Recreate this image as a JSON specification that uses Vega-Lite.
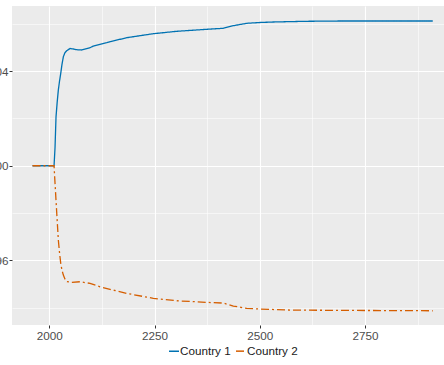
{
  "$schema": "https://vega.github.io/schema/vega-lite/v6.json",
  "width": 440,
  "height": 319,
  "autosize": {"type": "none"},
  "padding": {"left": 12, "top": 6, "right": 0, "bottom": 40},
  "background": "white",
  "config": {
    "view": {"fill": "#EBEBEB", "stroke": null},
    "font": "Liberation Sans"
  },
  "data": {
    "values": [
      {"country": "Country 1", "year": 1960, "value": 1.0},
      {"country": "Country 1", "year": 2011.2, "value": 1.0},
      {"country": "Country 1", "year": 2013.5, "value": 1.00075},
      {"country": "Country 1", "year": 2015.9, "value": 1.002074},
      {"country": "Country 1", "year": 2018.6, "value": 1.00268},
      {"country": "Country 1", "year": 2021.4, "value": 1.003204},
      {"country": "Country 1", "year": 2024.2, "value": 1.00358},
      {"country": "Country 1", "year": 2027.1, "value": 1.003911},
      {"country": "Country 1", "year": 2030.0, "value": 1.00428},
      {"country": "Country 1", "year": 2033.3, "value": 1.004614},
      {"country": "Country 1", "year": 2037.0, "value": 1.00478},
      {"country": "Country 1", "year": 2041.3, "value": 1.004868},
      {"country": "Country 1", "year": 2049.2, "value": 1.004961},
      {"country": "Country 1", "year": 2057.0, "value": 1.00494},
      {"country": "Country 1", "year": 2065.1, "value": 1.00491},
      {"country": "Country 1", "year": 2077.0, "value": 1.004898},
      {"country": "Country 1", "year": 2096.7, "value": 1.004995},
      {"country": "Country 1", "year": 2104.5, "value": 1.005067},
      {"country": "Country 1", "year": 2136.4, "value": 1.005207},
      {"country": "Country 1", "year": 2144.2, "value": 1.005249},
      {"country": "Country 1", "year": 2183.9, "value": 1.005418},
      {"country": "Country 1", "year": 2247.1, "value": 1.005588},
      {"country": "Country 1", "year": 2302.7, "value": 1.005689},
      {"country": "Country 1", "year": 2374.0, "value": 1.005774},
      {"country": "Country 1", "year": 2413.4, "value": 1.005816},
      {"country": "Country 1", "year": 2437.2, "value": 1.005926},
      {"country": "Country 1", "year": 2469.0, "value": 1.006028},
      {"country": "Country 1", "year": 2500.6, "value": 1.006062},
      {"country": "Country 1", "year": 2531.5, "value": 1.006083},
      {"country": "Country 1", "year": 2611.6, "value": 1.006113},
      {"country": "Country 1", "year": 2690.7, "value": 1.006125},
      {"country": "Country 1", "year": 2911, "value": 1.006125},
      {"country": "Country 2", "year": 1960, "value": 1.0},
      {"country": "Country 2", "year": 2011.2, "value": 1.0},
      {"country": "Country 2", "year": 2013.5, "value": 0.999268},
      {"country": "Country 2", "year": 2017.6, "value": 0.997998},
      {"country": "Country 2", "year": 2021.4, "value": 0.996855},
      {"country": "Country 2", "year": 2024.2, "value": 0.99632},
      {"country": "Country 2", "year": 2027.1, "value": 0.995869},
      {"country": "Country 2", "year": 2030.0, "value": 0.99558},
      {"country": "Country 2", "year": 2033.3, "value": 0.995373},
      {"country": "Country 2", "year": 2037.0, "value": 0.99521},
      {"country": "Country 2", "year": 2041.3, "value": 0.995098},
      {"country": "Country 2", "year": 2053.2, "value": 0.995064},
      {"country": "Country 2", "year": 2072.9, "value": 0.99509},
      {"country": "Country 2", "year": 2096.7, "value": 0.995022},
      {"country": "Country 2", "year": 2120.5, "value": 0.994878},
      {"country": "Country 2", "year": 2144.2, "value": 0.994768},
      {"country": "Country 2", "year": 2183.9, "value": 0.994599},
      {"country": "Country 2", "year": 2247.1, "value": 0.994387},
      {"country": "Country 2", "year": 2302.7, "value": 0.994286},
      {"country": "Country 2", "year": 2374.0, "value": 0.994218},
      {"country": "Country 2", "year": 2413.4, "value": 0.994188},
      {"country": "Country 2", "year": 2437.2, "value": 0.994061},
      {"country": "Country 2", "year": 2469.0, "value": 0.993964},
      {"country": "Country 2", "year": 2500.6, "value": 0.993934},
      {"country": "Country 2", "year": 2571.9, "value": 0.993892},
      {"country": "Country 2", "year": 2690.7, "value": 0.993879},
      {"country": "Country 2", "year": 2911, "value": 0.993862}
    ]
  },
  "mark": {"type": "line", "strokeWidth": 1.3, "interpolate": "linear"},
  "encoding": {
    "x": {
      "field": "year",
      "type": "quantitative",
      "scale": {"domain": [1911.3, 2956.7], "nice": false, "zero": false},
      "axis": {
        "title": null,
        "domain": false,
        "values": [2000, 2125, 2250, 2375, 2500, 2625, 2750, 2875],
        "labelExpr": "datum.value % 250 === 0 ? format(datum.value, 'd') : ''",
        "gridColor": "white",
        "gridWidth": {"condition": {"test": "datum.value % 250 === 0", "value": 1.1}, "value": 0.55},
        "tickColor": "#333333",
        "tickOpacity": {"condition": {"test": "datum.value % 250 === 0", "value": 1}, "value": 0},
        "tickSize": 3,
        "labelColor": "#4D4D4D",
        "labelFontSize": 11.7,
        "labelPadding": 2,
        "labelFlush": false,
        "labelOverlap": false
      }
    },
    "y": {
      "field": "value",
      "type": "quantitative",
      "scale": {"domain": [0.99326, 1.00676], "nice": false, "zero": false},
      "axis": {
        "title": null,
        "domain": false,
        "values": [0.994, 0.996, 0.998, 1.0, 1.002, 1.004, 1.006],
        "labelExpr": "round(datum.value * 1000) % 4 === 0 ? format(datum.value, '.3f') : ''",
        "gridColor": "white",
        "gridWidth": {"condition": {"test": "round(datum.value * 1000) % 4 === 0", "value": 1.1}, "value": 0.55},
        "tickColor": "#333333",
        "tickOpacity": {"condition": {"test": "round(datum.value * 1000) % 4 === 0", "value": 1}, "value": 0},
        "tickSize": 3,
        "labelColor": "#4D4D4D",
        "labelFontSize": 11.7,
        "labelPadding": 1,
        "labelFlush": false,
        "labelOverlap": false
      }
    },
    "color": {
      "field": "country",
      "type": "nominal",
      "scale": {"domain": ["Country 1", "Country 2"], "range": ["#0072B2", "#D55E00"]},
      "legend": {
        "title": null,
        "orient": "none",
        "legendX": 156,
        "legendY": 339,
        "direction": "horizontal",
        "symbolType": "stroke",
        "symbolSize": 100,
        "symbolStrokeWidth": 1.5,
        "labelFontSize": 11.7,
        "labelColor": "#1A1A1A",
        "labelOffset": 0,
        "columnPadding": 2
      }
    },
    "strokeDash": {
      "field": "country",
      "type": "nominal",
      "scale": {"domain": ["Country 1", "Country 2"], "range": [[1, 0], [8, 3, 2, 3]]},
      "legend": null
    }
  }
}
